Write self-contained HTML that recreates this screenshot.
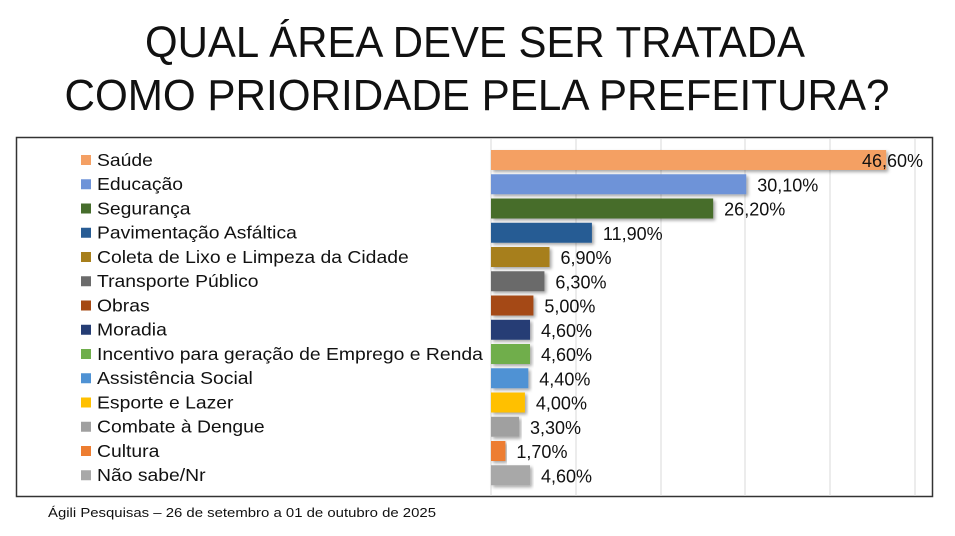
<!DOCTYPE html>
<html><head><meta charset="utf-8"><style>
html,body{margin:0;padding:0;background:#fff;width:955px;height:536px;overflow:hidden}
</style></head><body>
<svg width="955" height="536" xmlns="http://www.w3.org/2000/svg">
<defs>
<filter id="sh" x="-5%" y="-20%" width="115%" height="160%"><feDropShadow dx="2" dy="2" stdDeviation="1.5" flood-color="#000" flood-opacity="0.35"/></filter>
</defs>
<text x="475" y="57" text-anchor="middle" font-family="'Liberation Sans',sans-serif" font-size="44" textLength="660" lengthAdjust="spacingAndGlyphs" fill="#111">QUAL ÁREA DEVE SER TRATADA</text>
<text x="477" y="110" text-anchor="middle" font-family="'Liberation Sans',sans-serif" font-size="44" textLength="825" lengthAdjust="spacingAndGlyphs" fill="#111">COMO PRIORIDADE PELA PREFEITURA?</text>
<rect x="16.5" y="137.5" width="916" height="359" fill="#fff" stroke="#333" stroke-width="1.5"/>
<g stroke="#d9d9d9" stroke-width="1">
<line x1="491" y1="139" x2="491" y2="496"/><line x1="576" y1="139" x2="576" y2="496"/><line x1="661" y1="139" x2="661" y2="496"/><line x1="745" y1="139" x2="745" y2="496"/><line x1="830" y1="139" x2="830" y2="496"/><line x1="915" y1="139" x2="915" y2="496"/>
</g>
<g font-family="'Liberation Sans',sans-serif" font-size="18" fill="#111" id="rows"></g>
<text x="48" y="517" font-family="'Liberation Sans',sans-serif" font-size="13" textLength="388" lengthAdjust="spacingAndGlyphs" fill="#111">Ágili Pesquisas – 26 de setembro a 01 de outubro de 2025</text>
</svg>
<script>
var d=[["Saúde",46.6,"#f4a064","46,60%"],["Educação",30.1,"#6e93d8","30,10%"],["Segurança",26.2,"#466d2c","26,20%"],["Pavimentação Asfáltica",11.9,"#285c94","11,90%"],["Coleta de Lixo e Limpeza da Cidade",6.9,"#a77f1c","6,90%"],["Transporte Público",6.3,"#6b6b6b","6,30%"],["Obras",5.0,"#a54913","5,00%"],["Moradia",4.6,"#253d74","4,60%"],["Incentivo para geração de Emprego e Renda",4.6,"#6fae4c","4,60%"],["Assistência Social",4.4,"#4f92d4","4,40%"],["Esporte e Lazer",4.0,"#ffc000","4,00%"],["Combate à Dengue",3.3,"#a0a0a0","3,30%"],["Cultura",1.7,"#ed7d31","1,70%"],["Não sabe/Nr",4.6,"#a8a8a8","4,60%"]];
var g=document.getElementById("rows"),h="";
d.forEach(function(r,i){var cy=160+i*24.25,w=r[1]*8.48;
h+='<rect x="81" y="'+(cy-5)+'" width="10" height="10" fill="'+r[2]+'"/>';
h+='<text x="97" y="'+(cy+6)+'" transform="translate(97 0) scale(1.075 1) translate(-97 0)">'+r[0]+'</text>';
h+='<rect x="491" y="'+(cy-10)+'" width="'+w+'" height="20" fill="'+r[2]+'" filter="url(#sh)"/>';
var lx=i==0?862:491+w+11;
h+='<text x="'+lx+'" y="'+(cy+7)+'">'+r[3]+'</text>';});
g.innerHTML=h;
</script>
</body></html>
